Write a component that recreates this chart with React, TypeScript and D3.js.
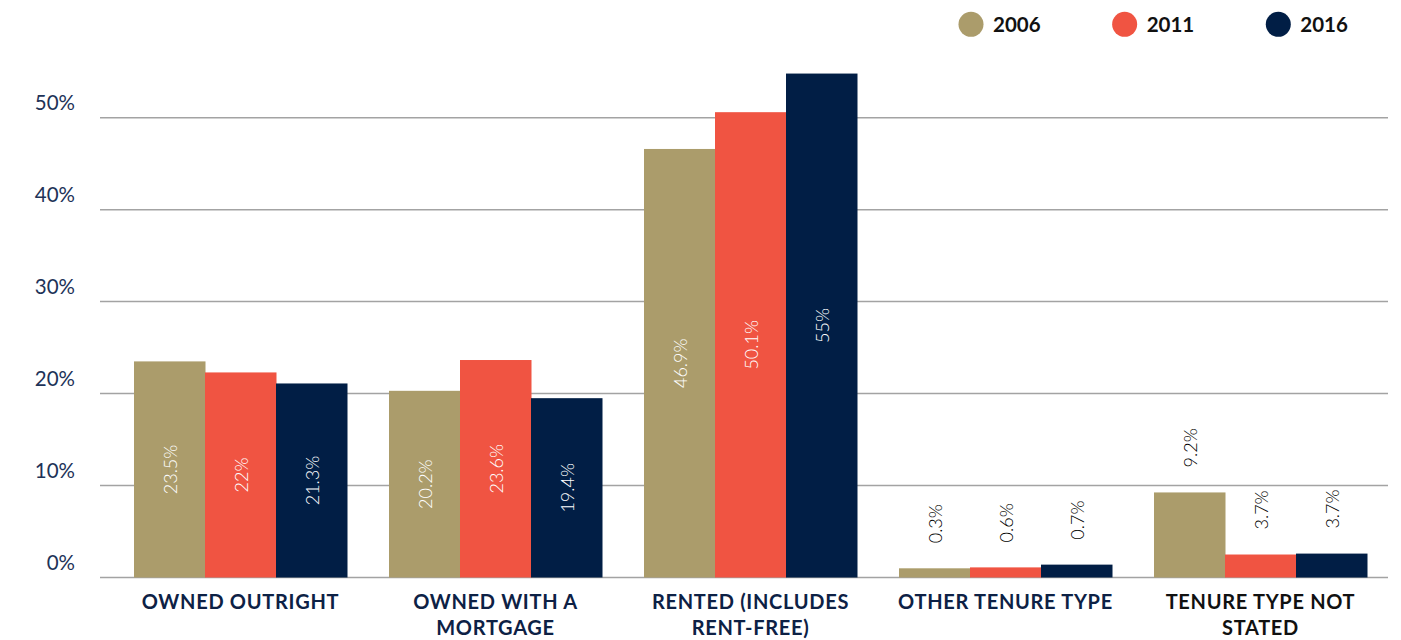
import React from "react";
import * as d3 from "d3";

const categories = [
  "OWNED OUTRIGHT",
  "OWNED WITH A\nMORTGAGE",
  "RENTED (INCLUDES\nRENT-FREE)",
  "OTHER TENURE TYPE",
  "TENURE TYPE NOT\nSTATED",
];
const years = ["2006", "2011", "2016"];
// bar heights as drawn in the picture (%)
const bars2006 = [23.5, 20.3, 46.6, 1.0, 9.25];
const bars2011 = [22.3, 23.65, 50.6, 1.1, 2.5];
const bars2016 = [21.1, 19.5, 54.8, 1.4, 2.6];
// value labels as printed
const labels2006 = ["23.5%", "20.2%", "46.9%", "0.3%", "9.2%"];
const labels2011 = ["22%", "23.6%", "50.1%", "0.6%", "3.7%"];
const labels2016 = ["21.3%", "19.4%", "55%", "0.7%", "3.7%"];
const yTicks = [0, 10, 20, 30, 40, 50];
const colors = ["#AB9C6B", "#F05442", "#011E45"];
const catColors = ["#0D2145", "#0D2145", "#0D2145", "#0D2145", "#111111"];

const FONT = "Lato, 'Open Sans', sans-serif";

export default function App() {
  const W = 1401;
  const H = 640;
  const y = d3.scaleLinear().domain([0, 50]).range([577.5, 117.7]);
  const x0 = d3
    .scaleBand<number>()
    .domain(d3.range(categories.length))
    .range([113, 1388])
    .paddingInner(42 / 255)
    .paddingOuter(21 / 255);
  const x1 = d3
    .scaleBand<number>()
    .domain(d3.range(years.length))
    .range([0, x0.bandwidth()]);
  const series = [bars2006, bars2011, bars2016];
  const labels = [labels2006, labels2011, labels2016];
  const legendX = d3.scalePoint<string>().domain(years).range([971, 1278.3]);

  return (
    <svg
      width={W}
      height={H}
      style={{ position: "absolute", left: 0, top: 0, background: "#fff" }}
      fontFamily={FONT}
    >
      {/* gridlines */}
      {yTicks.map((t) => (
        <line
          key={"g" + t}
          x1={100}
          x2={1388}
          y1={y(t)}
          y2={y(t)}
          stroke="#a3a3a3"
          strokeWidth={1.5}
        />
      ))}
      {/* y labels */}
      {yTicks.map((t) => (
        <text
          key={"yl" + t}
          x={75}
          y={y(t) - 15.5}
          textAnchor="end"
          dominantBaseline="central"
          fontSize={20.5}
          fontWeight={400}
          fill="#1E3358"
        >
          {t}%
        </text>
      ))}
      {/* bars */}
      {categories.map((c, i) => (
        <g key={"c" + i} transform={`translate(${x0(i)},0)`}>
          {series.map((s, j) => {
            const v = s[i];
            const bx = x1(j)!;
            const bw = x1.bandwidth();
            const cx = bx + bw / 2;
            const top = y(v);
            const inside = v >= 10;
            return (
              <g key={"b" + j}>
                <rect
                  x={bx}
                  y={top}
                  width={bw + 0.5}
                  height={y(0) - top}
                  fill={colors[j]}
                />
                {inside ? (
                  <text
                    transform={`translate(${cx},${(top + y(0)) / 2}) rotate(-90)`}
                    textAnchor="middle"
                    dominantBaseline="central"
                    fontSize={18}
                    fill="#ffffff"
                    fontWeight={300}
                  >
                    {labels[j][i]}
                  </text>
                ) : (
                  <text
                    transform={`translate(${cx},${top - 25}) rotate(-90)`}
                    textAnchor="start"
                    dominantBaseline="central"
                    fontSize={18}
                    fill="#000000"
                    fontWeight={300}
                  >
                    {labels[j][i]}
                  </text>
                )}
              </g>
            );
          })}
          {c.split("\n").map((line, k) => (
            <text
              key={"cl" + k}
              x={x0.bandwidth() / 2}
              y={609 + k * 26}
              textAnchor="middle"
              fontSize={20}
              fontWeight={700}
              letterSpacing={0.7}
              fill={catColors[i]}
            >
              {line}
            </text>
          ))}
        </g>
      ))}
      {/* legend */}
      {years.map((yr, j) => (
        <g key={"lg" + yr}>
          <circle cx={legendX(yr)} cy={24.3} r={12.5} fill={colors[j]} />
          <text
            x={legendX(yr)! + 22}
            y={24.3}
            dominantBaseline="central"
            fontSize={20.5}
            fontWeight={700}
            fill="#111111"
          >
            {yr}
          </text>
        </g>
      ))}
    </svg>
  );
}
